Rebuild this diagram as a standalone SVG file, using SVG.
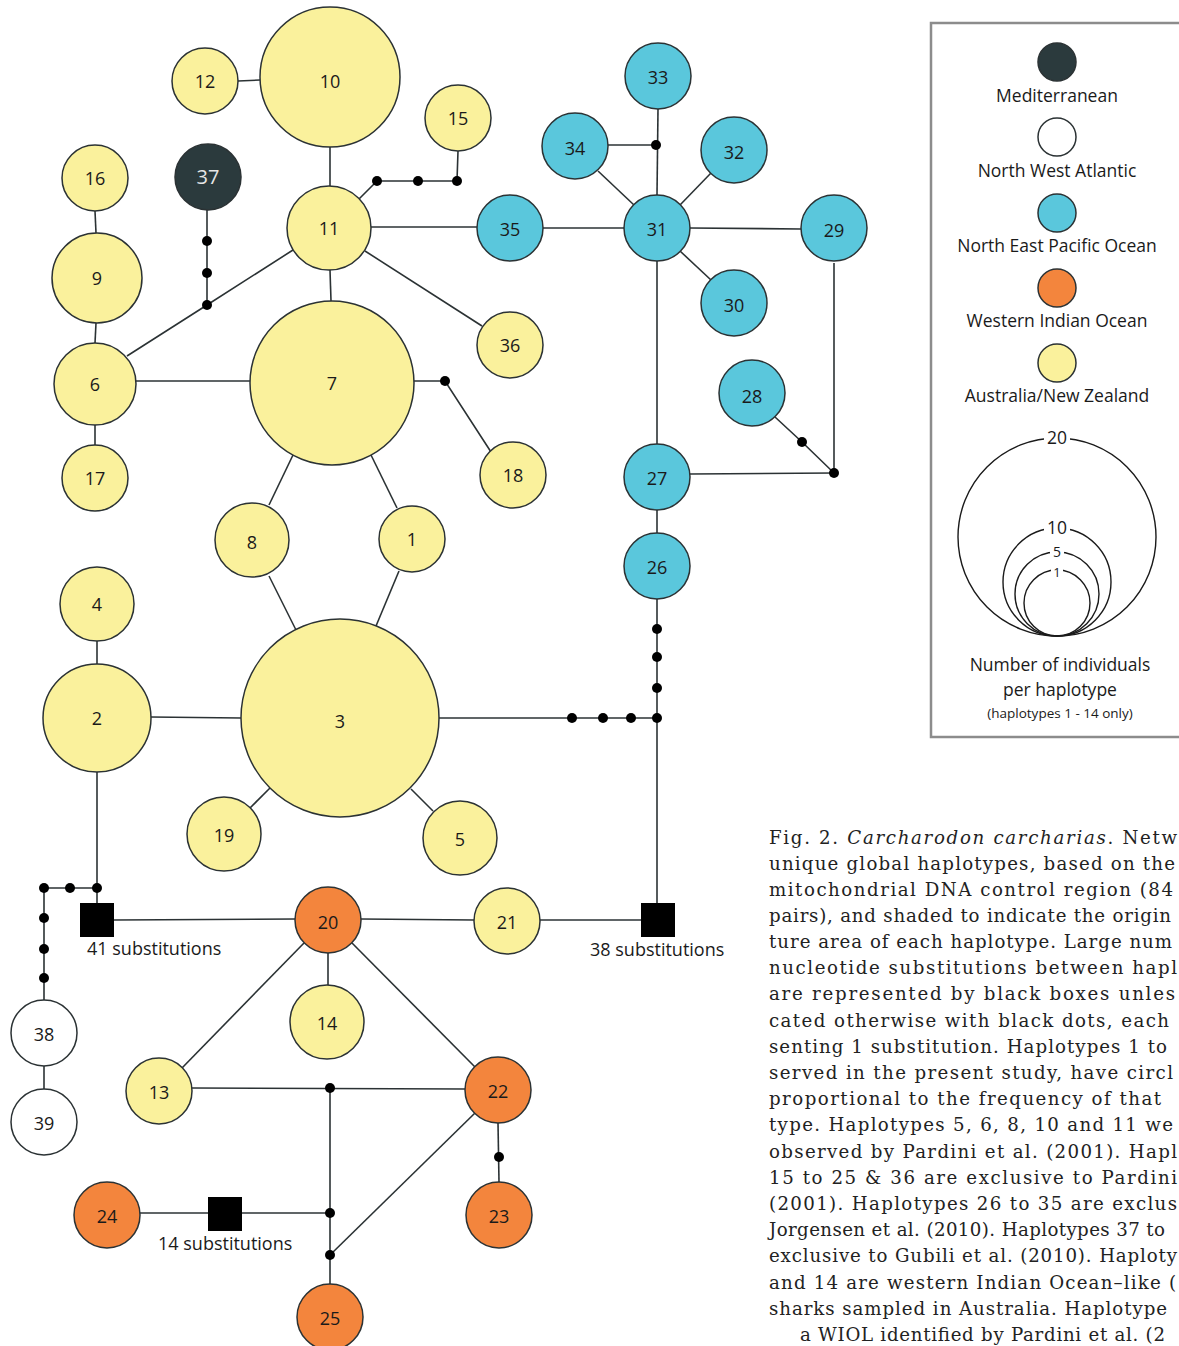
<svg xmlns="http://www.w3.org/2000/svg" width="1179" height="1346" viewBox="0 0 1179 1346">
<style>
.n{stroke:#2b3234;stroke-width:1.5}
.y{fill:#faf19c}.b{fill:#5ac7dc}.o{fill:#f3853d}.d{fill:#2b3a3d}.w{fill:#ffffff}
.t{font-family:"Open Sans","Noto Sans",sans-serif;font-size:18px;fill:#1a1a1a;text-anchor:middle}
.tw{fill:#e6e6e6}
.e line,.e polyline{stroke:#2b3234;stroke-width:1.6;fill:none}
.dot{fill:#000}
.sq{fill:#000}
.lab{font-family:"Open Sans","Noto Sans",sans-serif;font-size:18px;fill:#1a1a1a}
.lg{font-family:"Open Sans","Noto Sans",sans-serif;font-size:17.5px;fill:#1a1a1a;text-anchor:middle}
.cap{font-family:"DejaVu Serif","Liberation Serif",serif;font-size:18.2px;fill:#222}
</style>
<rect width="1179" height="1346" fill="#fff"/>
<g class="e" id="connectors">
<line x1="238" y1="81" x2="260" y2="80"/>
<line x1="330" y1="147" x2="330" y2="186"/>
<polyline points="359,199 377,181 457,181 458,151"/>
<line x1="371" y1="227" x2="477" y2="227"/>
<line x1="543" y1="228" x2="624" y2="228"/>
<line x1="690" y1="228" x2="801" y2="229"/>
<line x1="658" y1="109" x2="657" y2="195"/>
<line x1="608" y1="145" x2="656" y2="145"/>
<line x1="598" y1="171" x2="634" y2="205"/>
<line x1="711" y1="173" x2="680" y2="205"/>
<line x1="680" y1="251" x2="711" y2="280"/>
<line x1="657" y1="261" x2="657" y2="444"/>
<line x1="834" y1="263" x2="834" y2="473"/>
<polyline points="775,417 802,442 834,473"/>
<line x1="690" y1="474" x2="834" y2="473"/>
<line x1="657" y1="510" x2="657" y2="533"/>
<line x1="657" y1="599" x2="657" y2="903"/>
<line x1="439" y1="718" x2="657" y2="718"/>
<line x1="365" y1="251" x2="482" y2="326"/>
<line x1="330" y1="270" x2="331" y2="301"/>
<polyline points="293,250 207,305 127,356"/>
<line x1="207" y1="210" x2="207" y2="305"/>
<line x1="95" y1="211" x2="96" y2="233"/>
<line x1="96" y1="323" x2="95" y2="343"/>
<line x1="95" y1="425" x2="95" y2="445"/>
<line x1="136" y1="381" x2="250" y2="381"/>
<polyline points="414,381 445,381 491,452"/>
<line x1="293" y1="455" x2="269" y2="505"/>
<line x1="371" y1="455" x2="397" y2="508"/>
<line x1="269" y1="576" x2="296" y2="630"/>
<line x1="399" y1="571" x2="376" y2="626"/>
<line x1="97" y1="641" x2="97" y2="664"/>
<line x1="151" y1="717" x2="241" y2="718"/>
<line x1="270" y1="788" x2="250" y2="808"/>
<line x1="411" y1="789" x2="433" y2="811"/>
<line x1="97" y1="772" x2="97" y2="903"/>
<polyline points="97,888 44,888 44,1000"/>
<line x1="44" y1="1066" x2="44" y2="1089"/>
<line x1="114" y1="920" x2="295" y2="919"/>
<line x1="361" y1="919" x2="474" y2="920"/>
<line x1="540" y1="920" x2="641" y2="920"/>
<line x1="328" y1="953" x2="328" y2="985"/>
<line x1="304" y1="943" x2="182" y2="1068"/>
<line x1="352" y1="943" x2="475" y2="1067"/>
<line x1="192" y1="1088" x2="465" y2="1089"/>
<line x1="330" y1="1088" x2="330" y2="1284"/>
<line x1="140" y1="1213" x2="330" y2="1213"/>
<line x1="475" y1="1113" x2="330" y2="1255"/>
<line x1="498" y1="1123" x2="499" y2="1182"/>
<g id="dots">
<circle class="dot" cx="377" cy="181" r="5"/><circle class="dot" cx="418" cy="181" r="5"/><circle class="dot" cx="457" cy="181" r="5"/>
<circle class="dot" cx="656" cy="145" r="5"/>
<circle class="dot" cx="802" cy="442" r="5"/><circle class="dot" cx="834" cy="473" r="5"/>
<circle class="dot" cx="657" cy="629" r="5"/><circle class="dot" cx="657" cy="657" r="5"/><circle class="dot" cx="657" cy="688" r="5"/><circle class="dot" cx="657" cy="718" r="5"/>
<circle class="dot" cx="572" cy="718" r="5"/><circle class="dot" cx="603" cy="718" r="5"/><circle class="dot" cx="631" cy="718" r="5"/>
<circle class="dot" cx="207" cy="241" r="5"/><circle class="dot" cx="207" cy="273" r="5"/><circle class="dot" cx="207" cy="305" r="5"/>
<circle class="dot" cx="445" cy="381" r="5"/>
<circle class="dot" cx="97" cy="888" r="5"/><circle class="dot" cx="70" cy="888" r="5"/><circle class="dot" cx="44" cy="888" r="5"/>
<circle class="dot" cx="44" cy="918" r="5"/><circle class="dot" cx="44" cy="949" r="5"/><circle class="dot" cx="44" cy="978" r="5"/>
<circle class="dot" cx="330" cy="1088" r="5"/><circle class="dot" cx="330" cy="1213" r="5"/><circle class="dot" cx="330" cy="1255" r="5"/>
<circle class="dot" cx="499" cy="1157" r="5"/>
</g>
</g>
<g id="boxes">
<g id="box41"><rect class="sq" x="80" y="903" width="34" height="34"/><text class="lab" x="87" y="955">41 substitutions</text></g>
<g id="box38"><rect class="sq" x="641" y="903" width="34" height="34"/><text class="lab" x="590" y="956">38 substitutions</text></g>
<g id="box14"><rect class="sq" x="208" y="1197" width="34" height="34"/><text class="lab" x="158" y="1250">14 substitutions</text></g>
</g>
<g id="n10"><circle class="n y" cx="330" cy="77" r="70"/><text class="t" x="330" y="88">10</text></g>
<g id="n12"><circle class="n y" cx="205" cy="81" r="33"/><text class="t" x="205" y="88">12</text></g>
<g id="n15"><circle class="n y" cx="458" cy="118" r="33"/><text class="t" x="458" y="125">15</text></g>
<g id="n16"><circle class="n y" cx="95" cy="178" r="33"/><text class="t" x="95" y="185">16</text></g>
<g id="n37"><circle class="n d" cx="208" cy="177" r="33"/><text class="t tw" x="208" y="184" style="font-size:20px">37</text></g>
<g id="n11"><circle class="n y" cx="329" cy="228" r="42"/><text class="t" x="329" y="235">11</text></g>
<g id="n9"><circle class="n y" cx="97" cy="278" r="45"/><text class="t" x="97" y="285">9</text></g>
<g id="n6"><circle class="n y" cx="95" cy="384" r="41"/><text class="t" x="95" y="391">6</text></g>
<g id="n17"><circle class="n y" cx="95" cy="478" r="33"/><text class="t" x="95" y="485">17</text></g>
<g id="n7"><circle class="n y" cx="332" cy="383" r="82"/><text class="t" x="332" y="390">7</text></g>
<g id="n36"><circle class="n y" cx="510" cy="345" r="33"/><text class="t" x="510" y="352">36</text></g>
<g id="n18"><circle class="n y" cx="513" cy="475" r="33"/><text class="t" x="513" y="482">18</text></g>
<g id="n8"><circle class="n y" cx="252" cy="540" r="37"/><text class="t" x="252" y="549">8</text></g>
<g id="n1"><circle class="n y" cx="412" cy="539" r="33"/><text class="t" x="412" y="546">1</text></g>
<g id="n4"><circle class="n y" cx="97" cy="604" r="37"/><text class="t" x="97" y="611">4</text></g>
<g id="n2"><circle class="n y" cx="97" cy="718" r="54"/><text class="t" x="97" y="725">2</text></g>
<g id="n3"><circle class="n y" cx="340" cy="718" r="99"/><text class="t" x="340" y="728">3</text></g>
<g id="n19"><circle class="n y" cx="224" cy="834" r="37"/><text class="t" x="224" y="842">19</text></g>
<g id="n5"><circle class="n y" cx="460" cy="838" r="37"/><text class="t" x="460" y="846">5</text></g>
<g id="n35"><circle class="n b" cx="510" cy="228" r="33"/><text class="t" x="510" y="236">35</text></g>
<g id="n31"><circle class="n b" cx="657" cy="228" r="33"/><text class="t" x="657" y="236">31</text></g>
<g id="n33"><circle class="n b" cx="658" cy="76" r="33"/><text class="t" x="658" y="84">33</text></g>
<g id="n34"><circle class="n b" cx="575" cy="146" r="33"/><text class="t" x="575" y="155">34</text></g>
<g id="n32"><circle class="n b" cx="734" cy="150" r="33"/><text class="t" x="734" y="159">32</text></g>
<g id="n29"><circle class="n b" cx="834" cy="228" r="33"/><text class="t" x="834" y="237">29</text></g>
<g id="n30"><circle class="n b" cx="734" cy="303" r="33"/><text class="t" x="734" y="312">30</text></g>
<g id="n28"><circle class="n b" cx="752" cy="393" r="33"/><text class="t" x="752" y="403">28</text></g>
<g id="n27"><circle class="n b" cx="657" cy="477" r="33"/><text class="t" x="657" y="485">27</text></g>
<g id="n26"><circle class="n b" cx="657" cy="566" r="33"/><text class="t" x="657" y="574">26</text></g>
<g id="n20"><circle class="n o" cx="328" cy="920" r="33"/><text class="t" x="328" y="929">20</text></g>
<g id="n21"><circle class="n y" cx="507" cy="921" r="33"/><text class="t" x="507" y="929">21</text></g>
<g id="n14"><circle class="n y" cx="327" cy="1022" r="37"/><text class="t" x="327" y="1030">14</text></g>
<g id="n13"><circle class="n y" cx="159" cy="1091" r="33"/><text class="t" x="159" y="1099">13</text></g>
<g id="n22"><circle class="n o" cx="498" cy="1090" r="33"/><text class="t" x="498" y="1098">22</text></g>
<g id="n23"><circle class="n o" cx="499" cy="1215" r="33"/><text class="t" x="499" y="1223">23</text></g>
<g id="n24"><circle class="n o" cx="107" cy="1215" r="33"/><text class="t" x="107" y="1223">24</text></g>
<g id="n25"><circle class="n o" cx="330" cy="1317" r="33"/><text class="t" x="330" y="1325">25</text></g>
<g id="n38"><circle class="n w" cx="44" cy="1033" r="33"/><text class="t" x="44" y="1041">38</text></g>
<g id="n39"><circle class="n w" cx="44" cy="1122" r="33"/><text class="t" x="44" y="1130">39</text></g>
<g id="legend">
<rect x="931" y="23" width="260" height="714" fill="none" stroke="#8c8c8c" stroke-width="2.5"/>
<circle class="n d" cx="1057" cy="62" r="19"/><text class="lg" x="1057" y="102">Mediterranean</text>
<circle class="n w" cx="1057" cy="137" r="19"/><text class="lg" x="1057" y="177">North West Atlantic</text>
<circle class="n b" cx="1057" cy="213" r="19"/><text class="lg" x="1057" y="252">North East Pacific Ocean</text>
<circle class="n o" cx="1057" cy="288" r="19"/><text class="lg" x="1057" y="327">Western Indian Ocean</text>
<circle class="n y" cx="1057" cy="363" r="19"/><text class="lg" x="1057" y="402">Australia/New Zealand</text>
<g fill="none" stroke="#1a1a1a" stroke-width="1.4">
<circle cx="1057" cy="537" r="99"/>
<circle cx="1057" cy="582" r="54"/>
<circle cx="1057" cy="594" r="42"/>
<circle cx="1057" cy="603" r="33"/>
</g>
<rect x="1044" y="430" width="26" height="16" fill="#fff"/>
<rect x="1044" y="520" width="26" height="16" fill="#fff"/>
<rect x="1050" y="545" width="14" height="13" fill="#fff"/>
<rect x="1051" y="564" width="12" height="12" fill="#fff"/>
<text class="lg" x="1057" y="444">20</text>
<text class="lg" x="1057" y="534">10</text>
<text class="lg" x="1057" y="557" style="font-size:14px">5</text>
<text class="lg" x="1057" y="577" style="font-size:13px">1</text>
<text class="lg" x="1060" y="671">Number of individuals</text>
<text class="lg" x="1060" y="696">per haplotype</text>
<text class="lg" x="1060" y="718" style="font-size:13.5px">(haplotypes 1 - 14 only)</text>
</g>
<g id="caption" class="cap">
<text x="769" y="844" textLength="408" lengthAdjust="spacing">Fig. 2. <tspan font-style="italic">Carcharodon carcharias</tspan>. Netw</text>
<text x="769" y="870" textLength="406" lengthAdjust="spacing">unique global haplotypes, based on the</text>
<text x="769" y="896" textLength="404" lengthAdjust="spacing">mitochondrial DNA control region (84</text>
<text x="769" y="922" textLength="402" lengthAdjust="spacing">pairs), and shaded to indicate the origin</text>
<text x="769" y="948" textLength="403" lengthAdjust="spacing">ture area of each haplotype. Large num</text>
<text x="769" y="974" textLength="408" lengthAdjust="spacing">nucleotide substitutions between hapl</text>
<text x="769" y="1000" textLength="406" lengthAdjust="spacing">are represented by black boxes unles</text>
<text x="769" y="1027" textLength="400" lengthAdjust="spacing">cated otherwise with black dots, each</text>
<text x="769" y="1053" textLength="398" lengthAdjust="spacing">senting 1 substitution. Haplotypes 1 to</text>
<text x="769" y="1079" textLength="404" lengthAdjust="spacing">served in the present study, have circl</text>
<text x="769" y="1105" textLength="392" lengthAdjust="spacing">proportional to the frequency of that</text>
<text x="769" y="1131" textLength="404" lengthAdjust="spacing">type. Haplotypes 5, 6, 8, 10 and 11 we</text>
<text x="769" y="1158" textLength="408" lengthAdjust="spacing">observed by Pardini et al. (2001). Hapl</text>
<text x="769" y="1184" textLength="408" lengthAdjust="spacing">15 to 25 &amp; 36 are exclusive to Pardini</text>
<text x="769" y="1210" textLength="408" lengthAdjust="spacing">(2001). Haplotypes 26 to 35 are exclus</text>
<text x="769" y="1236" textLength="396" lengthAdjust="spacing">Jorgensen et al. (2010). Haplotypes 37 to</text>
<text x="769" y="1262" textLength="408" lengthAdjust="spacing">exclusive to Gubili et al. (2010). Haploty</text>
<text x="769" y="1289" textLength="407" lengthAdjust="spacing">and 14 are western Indian Ocean–like (</text>
<text x="769" y="1315" textLength="398" lengthAdjust="spacing">sharks sampled in Australia. Haplotype</text>
<text x="800" y="1341" textLength="365" lengthAdjust="spacing">a WIOL identified by Pardini et al. (2</text>
</g>
</svg>
